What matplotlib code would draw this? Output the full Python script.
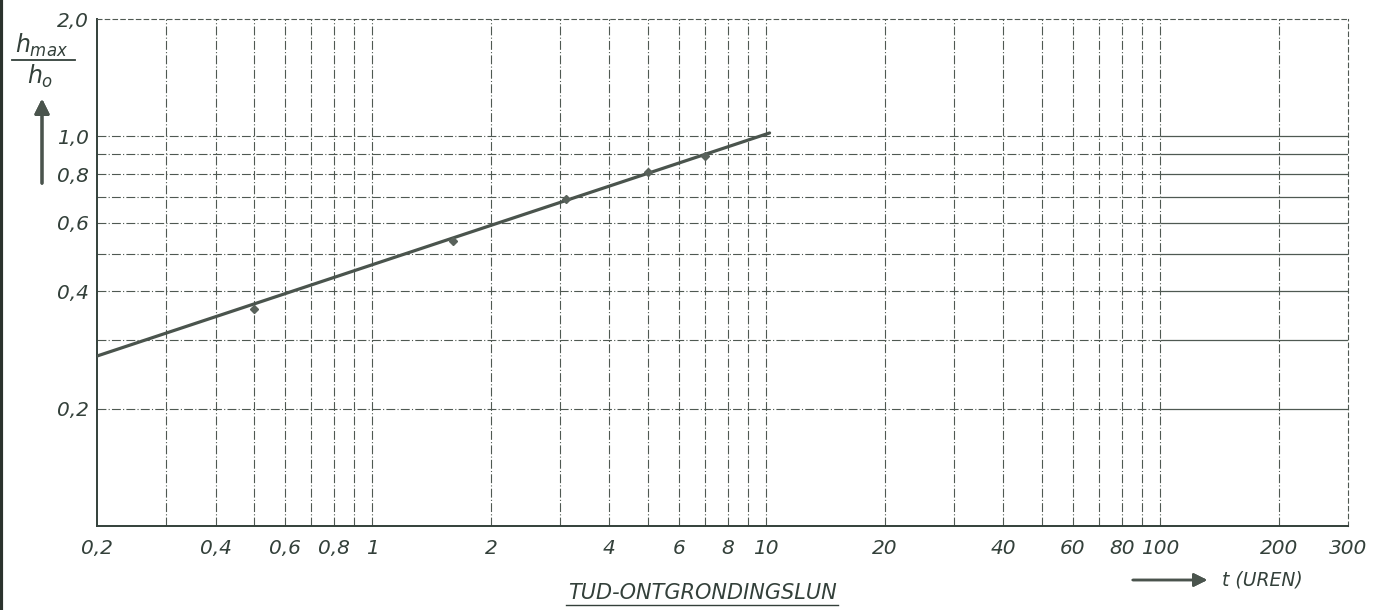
import numpy as np
import matplotlib

matplotlib.use("Agg")
import matplotlib.pyplot as plt
from matplotlib.lines import Line2D

# measured points (t in hours, hmax/h0)
t_obs = [0.5, 1.6, 3.1, 5.0, 7.0]
h_obs = [0.36, 0.54, 0.69, 0.81, 0.89]

# fitted line end points
t_fit = [0.2, 10.2]
h_fit = [0.273, 1.02]

x_grid = [0.3, 0.4, 0.5, 0.6, 0.7, 0.8, 0.9, 1, 2, 3, 4, 5, 6, 7, 8, 9, 10,
          20, 30, 40, 50, 60, 70, 80, 90, 100, 200]
y_grid = [0.2, 0.3, 0.4, 0.5, 0.6, 0.7, 0.8, 0.9, 1.0]

x_ticks = [0.2, 0.4, 0.6, 0.8, 1, 2, 4, 6, 8, 10, 20, 40, 60, 80, 100, 200, 300]
x_labels = ["0,2", "0,4", "0,6", "0,8", "1", "2", "4", "6", "8", "10",
            "20", "40", "60", "80", "100", "200", "300"]
y_ticks = [0.2, 0.4, 0.6, 0.8, 1.0, 2.0]
y_labels = ["0,2", "0,4", "0,6", "0,8", "1,0", "2,0"]

ink = "#33403a"
grid_c = "#4f5952"

plt.rcParams.update({
    "font.family": "DejaVu Sans",
    "font.style": "italic",
    "font.size": 14,
    "mathtext.fontset": "dejavusans",
})

fig = plt.figure(figsize=(13.76, 6.10), dpi=100)
ax = fig.add_axes([97 / 1376, 1 - 526 / 610, (1348 - 97) / 1376, (526 - 19) / 610])
ax.set_xscale("log")
ax.set_yscale("log")
ax.set_xlim(0.2, 300)
ax.set_ylim(0.1, 2.0)

# grid
for x in x_grid:
    ax.axvline(x, color=grid_c, lw=0.8, ls=(0, (8, 2, 1, 2)), zorder=1)
for y in y_grid:
    ax.hlines(y, 0.2, 100, color=grid_c, lw=0.8, ls=(0, (8, 2, 1, 2)), zorder=1)
    ax.hlines(y, 100, 300, color=grid_c, lw=0.9, zorder=1)

# data
ax.plot(t_fit, h_fit, color="#4a544d", lw=2.3, solid_capstyle="round", zorder=3)
ax.plot(t_obs, h_obs, ls="none", marker="D", ms=4.5, color="#59625b", zorder=4)

for s in ["left", "bottom"]:
    ax.spines[s].set_color(ink)
    ax.spines[s].set_linewidth(1.4)
for s in ["top", "right"]:
    ax.spines[s].set_color(grid_c)
    ax.spines[s].set_linewidth(0.8)
    ax.spines[s].set_linestyle((0, (4, 3)))

ax.set_xticks(x_ticks)
ax.set_xticklabels(x_labels)
ax.set_yticks(y_ticks)
ax.set_yticklabels(y_labels)
ax.minorticks_off()
ax.tick_params(length=0, colors=ink, labelsize=14.5)
ax.tick_params(axis="x", pad=9)
ax.tick_params(axis="y", pad=6)

# y-axis label as fraction with arrow
fig.text(42 / 1376, 1 - 45 / 610, r"$\mathit{h_{max}}$", ha="center", va="center",
         fontsize=17, color=ink)
fig.add_artist(Line2D([12 / 1376, 75 / 1376], [1 - 60 / 610, 1 - 60 / 610],
                      color=ink, lw=1.3))
fig.text(40 / 1376, 1 - 76 / 610, r"$\mathit{h_{o}}$", ha="center", va="center",
         fontsize=17, color=ink)
fig.add_artist(plt.annotate("", xy=(42 / 1376, 1 - 96 / 610), xytext=(42 / 1376, 1 - 186 / 610),
                            xycoords="figure fraction",
                            arrowprops=dict(arrowstyle="-|>", color="#4a544d", lw=2.2,
                                            mutation_scale=22)))

# x-axis label with arrow
fig.add_artist(plt.annotate("", xy=(1210 / 1376, 1 - 580 / 610), xytext=(1130 / 1376, 1 - 580 / 610),
                            xycoords="figure fraction",
                            arrowprops=dict(arrowstyle="-|>", color="#4a544d", lw=1.8,
                                            mutation_scale=20)))
fig.text(1222 / 1376, 1 - 580 / 610, "t (UREN)", ha="left", va="center",
         fontsize=13.5, color=ink)

# title at bottom, underlined
fig.text(702 / 1376, 1 - 593 / 610, "TUD-ONTGRONDINGSLUN", ha="center",
         va="center", fontsize=15, color=ink)
fig.add_artist(Line2D([566 / 1376, 838 / 1376], [1 - 605 / 610, 1 - 605 / 610],
                      color=ink, lw=1.0))

# dark scan edge on the left
fig.add_artist(Line2D([1 / 1376, 1 / 1376], [0, 1], color="#2b332e", lw=3))

fig.savefig("out.png", dpi=100)
